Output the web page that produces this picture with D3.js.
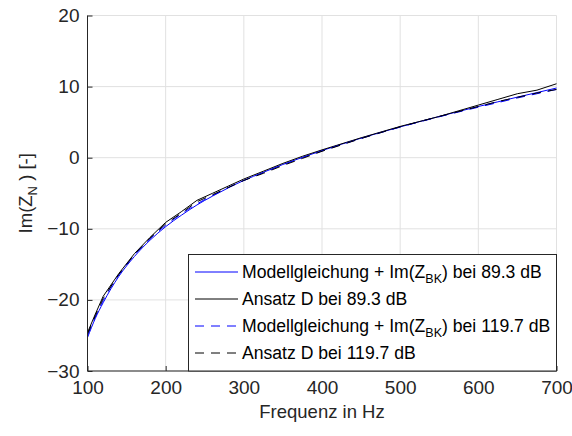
<!DOCTYPE html>
<html>
<head>
<meta charset="utf-8">
<script src="https://cdn.jsdelivr.net/npm/d3@7"></script>
<style>
  html, body { margin: 0; padding: 0; background: #fff; }
  svg { display: block; font-family: "Liberation Sans", Arial, Helvetica, sans-serif; }
</style>
</head>
<body>
<svg id="chart" width="572" height="436"></svg>
<script>
// Frequenzstützstellen in Hz
const freq = [100, 110, 120, 140, 160, 180, 200, 220, 240, 260, 280, 300, 325, 350, 375, 400, 450, 500, 550, 600, 625, 650, 675, 700];

// Modellgleichung + Im(Z_BK) bei 89.3 dB
const modell893 = [-25.3, -22.6, -20.4, -16.7, -13.9, -11.6, -9.7, -8.1, -6.65, -5.4, -4.25, -3.2, -2.05, -0.95, 0.05, 1.0, 2.75, 4.33, 5.8, 7.2, 7.86, 8.52, 9.16, 9.8];
// Ansatz D bei 89.3 dB
const ansatz893 = [-24.6, -22.0, -19.5, -16.3, -13.5, -11.2, -9.1, -7.6, -6.0, -5.0, -4.0, -3.0, -1.9, -0.8, 0.2, 1.1, 2.8, 4.4, 5.8, 7.4, 8.2, 9.0, 9.5, 10.4];
// Modellgleichung + Im(Z_BK) bei 119.7 dB
const modell1197 = [-25.0, -22.4, -20.1, -16.5, -13.7, -11.4, -9.5, -7.9, -6.5, -5.3, -4.2, -3.2, -2.1, -1.0, 0.0, 0.95, 2.7, 4.3, 5.75, 7.1, 7.75, 8.4, 9.0, 9.6];
// Ansatz D bei 119.7 dB
const ansatz1197 = [-24.8, -22.2, -19.8, -16.4, -13.6, -11.3, -9.3, -7.8, -6.2, -5.2, -4.2, -3.2, -2.2, -1.1, -0.1, 0.9, 2.7, 4.35, 5.8, 7.2, 7.9, 8.5, 9.1, 9.6];

const xTicks = [100, 200, 300, 400, 500, 600, 700];
const yTicks = [-30, -20, -10, 0, 10, 20];

const series = [
  { values: modell893,  color: "#0000ff", dash: null,  smooth: true,  label: ["Modellgleichung + Im(Z", "BK", ") bei 89.3 dB"] },
  { values: ansatz893,  color: "#000000", dash: null,  smooth: false, label: ["Ansatz D bei 89.3 dB"] },
  { values: modell1197, color: "#0000ff", dash: "9,7", smooth: true,  label: ["Modellgleichung + Im(Z", "BK", ") bei 119.7 dB"] },
  { values: ansatz1197, color: "#000000", dash: "9,7", smooth: false, label: ["Ansatz D bei 119.7 dB"] }
];

const svg = d3.select("#chart");
const m = { left: 87.5, right: 556.5, top: 15.5, bottom: 371 };
const axisColor = "#262626";

const x = d3.scaleLinear().domain([100, 700]).range([m.left, m.right]);
const y = d3.scaleLinear().domain([-30, 20]).range([m.bottom, m.top]);

// Gitternetz
const grid = svg.append("g");
grid.selectAll(".gx").data(xTicks).join("line")
  .attr("x1", d => x(d)).attr("x2", d => x(d))
  .attr("y1", m.top).attr("y2", m.bottom)
  .attr("stroke", "#e1e1e1").attr("stroke-width", 1);
grid.selectAll(".gy").data(yTicks).join("line")
  .attr("x1", m.left).attr("x2", m.right)
  .attr("y1", d => y(d)).attr("y2", d => y(d))
  .attr("stroke", "#e1e1e1").attr("stroke-width", 1);

// Kurven
const plot = svg.append("g");
series.forEach(s => {
  const line = d3.line()
    .x((d, i) => x(freq[i]))
    .y(d => y(d))
    .curve(s.smooth ? d3.curveMonotoneX : d3.curveLinear);
  plot.append("path")
    .datum(s.values)
    .attr("d", line)
    .attr("fill", "none")
    .attr("stroke", s.color)
    .attr("stroke-width", 1)
    .attr("stroke-dasharray", s.dash);
});

// Achsen
const xAxis = d3.axisBottom(x).tickValues(xTicks).tickSize(-5).tickPadding(10).tickFormat(d3.format("d"));
const yAxis = d3.axisLeft(y).tickValues(yTicks).tickSize(-5).tickPadding(8).tickFormat(d3.format("d"));

const gx = svg.append("g").attr("transform", `translate(0,${m.bottom})`).call(xAxis);
const gy = svg.append("g").attr("transform", `translate(${m.left},0)`).call(yAxis);
[gx, gy].forEach(g => {
  g.select(".domain").attr("stroke", axisColor).attr("stroke-width", 1);
  g.selectAll(".tick line").attr("stroke", axisColor);
  g.selectAll(".tick text").attr("fill", axisColor)
    .style("font-family", "'Liberation Sans', Arial, sans-serif").style("font-size", "19px");
});
gx.select(".domain").attr("d", `M${m.left},0H${m.right}`);
gy.select(".domain").attr("d", `M0,${m.bottom}V${m.top}`);

// Achsenbeschriftungen
svg.append("text")
  .attr("x", (m.left + m.right) / 2).attr("y", 418)
  .attr("text-anchor", "middle").attr("fill", axisColor)
  .style("font-size", "18.5px")
  .text("Frequenz in Hz");

const yl = svg.append("text")
  .attr("transform", `translate(32,${(m.top + m.bottom) / 2}) rotate(-90)`)
  .attr("text-anchor", "middle").attr("fill", axisColor)
  .style("font-size", "18.5px");
yl.append("tspan").text("Im(Z");
yl.append("tspan").attr("dy", 5).style("font-size", "13px").text("N");
yl.append("tspan").attr("dy", -5).text(" ) [-]");

// Legende
const lg = svg.append("g");
lg.append("rect")
  .attr("x", 188.5).attr("y", 254.5).attr("width", 368).attr("height", 116.5)
  .attr("fill", "#fff").attr("stroke", axisColor).attr("stroke-width", 1);
const rowY = [272, 299, 326, 353];
series.forEach((s, i) => {
  lg.append("line")
    .attr("x1", 195).attr("x2", 238)
    .attr("y1", rowY[i]).attr("y2", rowY[i])
    .attr("stroke", s.color).attr("stroke-width", 1)
    .attr("stroke-dasharray", s.dash);
  const t = lg.append("text")
    .attr("x", 242).attr("y", rowY[i] + 6)
    .attr("fill", "#000").style("font-size", "17.6px");
  t.append("tspan").text(s.label[0]);
  if (s.label.length > 1) {
    t.append("tspan").attr("dy", 5).style("font-size", "12.5px").text(s.label[1]);
    t.append("tspan").attr("dy", -5).text(s.label[2]);
  }
});
</script>
</body>
</html>
